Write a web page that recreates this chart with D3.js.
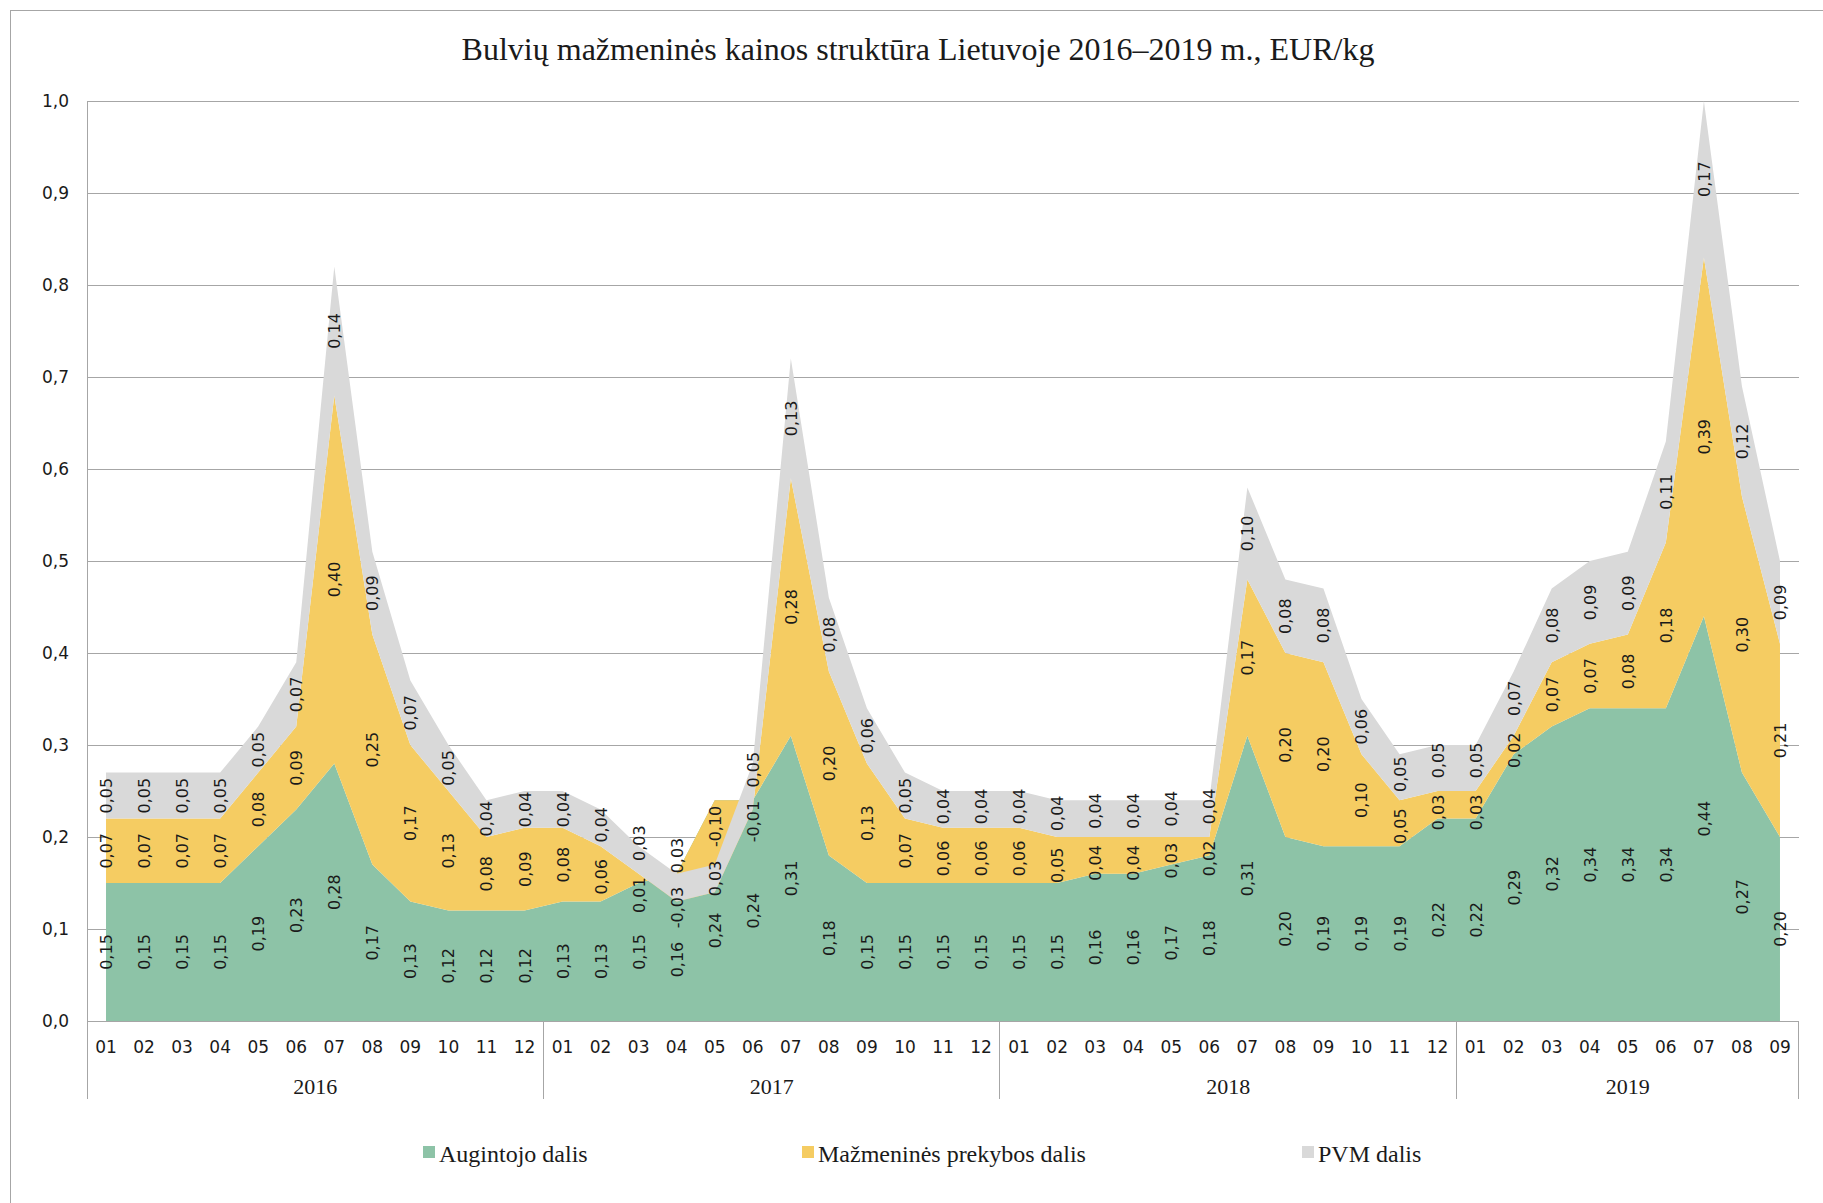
<!DOCTYPE html>
<html>
<head>
<meta charset="utf-8">
<script src="https://cdn.jsdelivr.net/npm/d3@7"></script>
<style>
  body { margin: 0; background: #fff; }
  svg { display: block; }
</style>
</head>
<body>
<div id="chart"></div>
<script>
// months on the x axis, grouped by year
var years = ["2016", "2017", "2018", "2019"];
var monthsPerYear = [12, 12, 12, 9];
var monthLabels = ["01","02","03","04","05","06","07","08","09","10","11","12"];

// Augintojo dalis
var augintojo = [
  0.15,0.15,0.15,0.15,0.19,0.23,0.28,0.17,0.13,0.12,0.12,0.12,
  0.13,0.13,0.15,0.16,0.24,0.24,0.31,0.18,0.15,0.15,0.15,0.15,
  0.15,0.15,0.16,0.16,0.17,0.18,0.31,0.20,0.19,0.19,0.19,0.22,
  0.22,0.29,0.32,0.34,0.34,0.34,0.44,0.27,0.20
];
// Mažmeninės prekybos dalis
var prekybos = [
  0.07,0.07,0.07,0.07,0.08,0.09,0.40,0.25,0.17,0.13,0.08,0.09,
  0.08,0.06,0.01,-0.03,-0.10,-0.01,0.28,0.20,0.13,0.07,0.06,0.06,
  0.06,0.05,0.04,0.04,0.03,0.02,0.17,0.20,0.20,0.10,0.05,0.03,
  0.03,0.02,0.07,0.07,0.08,0.18,0.39,0.30,0.21
];
// PVM dalis
var pvm = [
  0.05,0.05,0.05,0.05,0.05,0.07,0.14,0.09,0.07,0.05,0.04,0.04,
  0.04,0.04,0.03,0.03,0.03,0.05,0.13,0.08,0.06,0.05,0.04,0.04,
  0.04,0.04,0.04,0.04,0.04,0.04,0.10,0.08,0.08,0.06,0.05,0.05,
  0.05,0.07,0.08,0.09,0.09,0.11,0.17,0.12,0.09
];
var seriesNames = ["Augintojo dalis", "Mažmeninės prekybos dalis", "PVM dalis"];
var colors = ["#8dc3a7", "#f5cc62", "#d9d9d9"];
var yTicks = [0, 0.1, 0.2, 0.3, 0.4, 0.5, 0.6, 0.7, 0.8, 0.9, 1.0];

var W = 1823, H = 1203;
var pLeft = 87, pRight = 1799, pTop = 101, pBottom = 1021;
var axisBottom = 1099;

var svg = d3.select("#chart").append("svg")
    .attr("width", W)
    .attr("height", H);

// outer frame (right and bottom edges fall outside the picture)
svg.append("rect")
    .attr("x", 10.5).attr("y", 10.5)
    .attr("width", W + 20).attr("height", H + 20)
    .attr("fill", "none")
    .attr("stroke", "#a6a6a6");

svg.append("text")
    .attr("x", 918).attr("y", 60)
    .attr("text-anchor", "middle")
    .style("font-family", "'Liberation Serif', 'Times New Roman', serif")
    .style("font-size", "32px")
    .attr("fill", "#1a1a1a")
    .text("Bulvių mažmeninės kainos struktūra Lietuvoje 2016–2019 m., EUR/kg");

var n = augintojo.length;
var rows = d3.range(n).map(i => ({ i: i, a: augintojo[i], b: prekybos[i], c: pvm[i] }));

var x = d3.scaleBand().domain(d3.range(n)).range([pLeft, pRight]).padding(0);
var cx = i => x(i) + x.bandwidth() / 2;
var y = d3.scaleLinear().domain([0, 1]).range([pBottom, pTop]);

// gridlines
svg.append("g").selectAll("line")
    .data(yTicks.slice(1))
    .enter().append("line")
    .attr("x1", pLeft).attr("x2", pRight)
    .attr("y1", d => Math.round(y(d)) + 0.5)
    .attr("y2", d => Math.round(y(d)) + 0.5)
    .attr("stroke", "#a6a6a6");

// y tick labels
svg.append("g").selectAll("text")
    .data(yTicks)
    .enter().append("text")
    .attr("x", 69)
    .attr("y", d => y(d) + 6)
    .attr("text-anchor", "end")
    .style("font-family", "'DejaVu Sans', Verdana, sans-serif")
    .style("font-size", "17px")
    .attr("fill", "#1a1a1a")
    .text(d => d.toFixed(1).replace(".", ","));

// stacked areas, Excel-style cumulative stacking (negatives included)
var stack = d3.stack().keys(["a", "b", "c"]).offset(d3.stackOffsetNone);
var layers = stack(rows);

var area = d3.area()
    .x(d => cx(d.data.i))
    .y0(d => y(d[0]))
    .y1(d => y(d[1]));

svg.append("g").selectAll("path")
    .data(layers)
    .enter().append("path")
    .attr("d", area)
    .attr("fill", (d, k) => colors[k]);

// axes lines
svg.append("line")
    .attr("x1", pLeft).attr("x2", pRight)
    .attr("y1", pBottom + 0.5).attr("y2", pBottom + 0.5)
    .attr("stroke", "#a6a6a6");
svg.append("line")
    .attr("x1", pLeft + 0.5).attr("x2", pLeft + 0.5)
    .attr("y1", pTop).attr("y2", axisBottom)
    .attr("stroke", "#a6a6a6");

// year separators
var starts = [0];
monthsPerYear.forEach((m, k) => starts.push(starts[k] + m));
svg.append("g").selectAll("line")
    .data(starts.slice(1))
    .enter().append("line")
    .attr("x1", d => Math.round(x(d - 1) + x.bandwidth()) - 0.5)
    .attr("x2", d => Math.round(x(d - 1) + x.bandwidth()) - 0.5)
    .attr("y1", pBottom).attr("y2", axisBottom)
    .attr("stroke", "#a6a6a6");

// month labels
svg.append("g").selectAll("text")
    .data(rows)
    .enter().append("text")
    .attr("x", d => cx(d.i))
    .attr("y", 1053)
    .attr("text-anchor", "middle")
    .style("font-family", "'DejaVu Sans', Verdana, sans-serif")
    .style("font-size", "17px")
    .attr("fill", "#1a1a1a")
    .text(d => monthLabels[d.i % 12]);

// year labels
svg.append("g").selectAll("text")
    .data(years)
    .enter().append("text")
    .attr("x", (d, k) => (x(starts[k]) + x(starts[k + 1] - 1) + x.bandwidth()) / 2)
    .attr("y", 1094)
    .attr("text-anchor", "middle")
    .style("font-family", "'Liberation Serif', 'Times New Roman', serif")
    .style("font-size", "22px")
    .attr("fill", "#1a1a1a")
    .text(d => d);

// data labels, in the middle of each band, pushed apart when they collide
var minSep = 52;
var labels = [];
rows.forEach(function(r) {
  var col = layers.map((L, k) => ({
    i: r.i, v: [r.a, r.b, r.c][k],
    pos: y((L[r.i][0] + L[r.i][1]) / 2)
  }));
  col.sort((p, q) => q.pos - p.pos);
  for (var it = 0; it < 20; it++) {
    for (var j = 0; j < col.length - 1; j++) {
      var gap = col[j].pos - col[j + 1].pos;
      if (gap < minSep) {
        var push = (minSep - gap) / 2;
        col[j].pos += push;
        col[j + 1].pos -= push;
      }
    }
  }
  labels = labels.concat(col);
});

svg.append("g").selectAll("text")
    .data(labels)
    .enter().append("text")
    .attr("transform", d => "translate(" + (cx(d.i) + 6) + "," + d.pos + ") rotate(-90)")
    .attr("text-anchor", "middle")
    .style("font-family", "'DejaVu Sans', Verdana, sans-serif")
    .style("font-size", "16px")
    .attr("fill", "#1a1a1a")
    .text(d => d.v.toFixed(2).replace(".", ","));

// legend
var legendX = [423, 802, 1302];
var lg = svg.append("g").selectAll("g")
    .data(seriesNames)
    .enter().append("g")
    .attr("transform", (d, k) => "translate(" + legendX[k] + ",1146)");
lg.append("rect")
    .attr("width", 12).attr("height", 12)
    .attr("fill", (d, k) => colors[k]);
lg.append("text")
    .attr("x", 16).attr("y", 16)
    .style("font-family", "'Liberation Serif', 'Times New Roman', serif")
    .style("font-size", "24px")
    .attr("fill", "#1a1a1a")
    .text(d => d);
</script>
</body>
</html>
